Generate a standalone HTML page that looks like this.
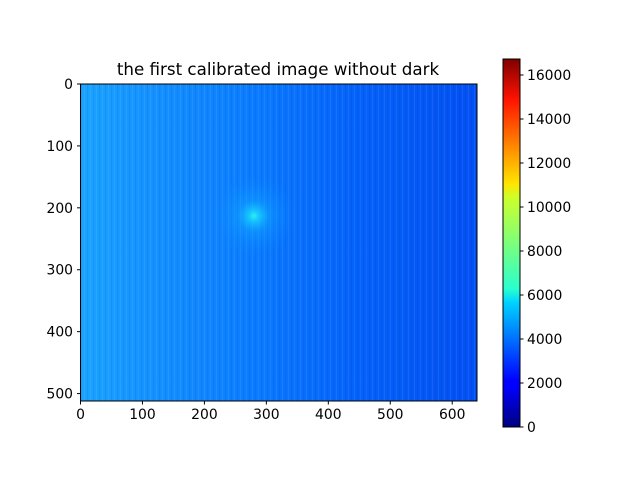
<!DOCTYPE html>
<html><head><meta charset="utf-8"><style>
body{margin:0;background:#fff;}
svg text{font-family:"DejaVu Sans","Liberation Sans",sans-serif;font-size:13.9px;fill:#000;}
</style></head><body>
<svg id="chart" width="640" height="480" viewBox="0 0 640 480">
<defs>
<linearGradient id="bg" x1="0" x2="1" y1="0" y2="0">
<stop offset="0" stop-color="#1aa4ff"/>
<stop offset="0.15" stop-color="#1594ff"/>
<stop offset="0.45" stop-color="#0a7aff"/>
<stop offset="0.7" stop-color="#0462fa"/>
<stop offset="1" stop-color="#0350f2"/>
</linearGradient>
<radialGradient id="glow" cx="0.5" cy="0.5" r="0.5">
<stop offset="0" stop-color="#30f0e8" stop-opacity="1"/>
<stop offset="0.12" stop-color="#18d0ff" stop-opacity="0.9"/>
<stop offset="0.4" stop-color="#10a8ff" stop-opacity="0.45"/>
<stop offset="1" stop-color="#0a90ff" stop-opacity="0"/>
</radialGradient>
<pattern id="stripes" width="6" height="4" patternUnits="userSpaceOnUse">
<rect x="0" y="0" width="1" height="4" fill="#ffffff" opacity="0.07"/>
<rect x="3" y="0" width="1" height="4" fill="#000060" opacity="0.07"/>
</pattern>
<linearGradient id="jet" x1="0" x2="0" y1="1" y2="0">
<stop offset="0" stop-color="#00007f"/>
<stop offset="0.11" stop-color="#0000ff"/>
<stop offset="0.125" stop-color="#0000ff"/>
<stop offset="0.34" stop-color="#00d4ff"/>
<stop offset="0.375" stop-color="#29ffce"/>
<stop offset="0.5" stop-color="#7dff7a"/>
<stop offset="0.625" stop-color="#ceff29"/>
<stop offset="0.66" stop-color="#ffe600"/>
<stop offset="0.89" stop-color="#ff1300"/>
<stop offset="1" stop-color="#7f0000"/>
</linearGradient>
</defs>
<text x="278" y="75" text-anchor="middle" style="font-size:16.7px">the first calibrated image without dark</text>
<g id="img">
<rect x="80.5" y="84" width="396.5" height="317" fill="url(#bg)"/>
<rect x="80.5" y="84" width="396.5" height="317" fill="url(#stripes)"/>
<circle id="spot" r="40" fill="url(#glow)"/>
</g>
<rect x="80.5" y="84" width="396.5" height="317" fill="none" stroke="#000" stroke-width="1"/>
<g id="xaxis"></g>
<g id="yaxis"></g>
<rect x="503" y="59" width="17" height="368" fill="url(#jet)" stroke="#000" stroke-width="1"/>
<g id="cbaxis"></g>
</svg>
<script>
const xTicks=[0,100,200,300,400,500,600];
const yTicks=[0,100,200,300,400,500];
const cbTicks=[0,2000,4000,6000,8000,10000,12000,14000,16000];
const spot=[280,213];
const ns="http://www.w3.org/2000/svg";
const X=v=>80.5+v*396.5/640, Y=v=>84+v*317/512, C=v=>427-v*368/16727;
function mk(t,a,p){const e=document.createElementNS(ns,t);for(const k in a)e.setAttribute(k,a[k]);p.appendChild(e);return e;}
const s=document.getElementById('spot');s.setAttribute('cx',X(spot[0]));s.setAttribute('cy',Y(spot[1]));
const xa=document.getElementById('xaxis');
xTicks.forEach(v=>{const l=mk('line',{x1:X(v),x2:X(v),y1:401,y2:404.5,stroke:'#000'},xa);


const t=mk('text',{x:X(v),y:419,'text-anchor':'middle'},xa);t.textContent=v;

});
const ya=document.getElementById('yaxis');
yTicks.forEach(v=>{const l=mk('line',{x1:77,x2:80.5,y1:Y(v),y2:Y(v),stroke:'#000'},ya);


const t=mk('text',{x:73,y:Y(v)+5,'text-anchor':'end'},ya);t.textContent=v;

});
const ca=document.getElementById('cbaxis');
cbTicks.forEach(v=>{const l=mk('line',{x1:520,x2:523.5,y1:C(v),y2:C(v),stroke:'#000'},ca);


const t=mk('text',{x:527,y:C(v)+5},ca);t.textContent=v;

});
</script>
</body></html>
